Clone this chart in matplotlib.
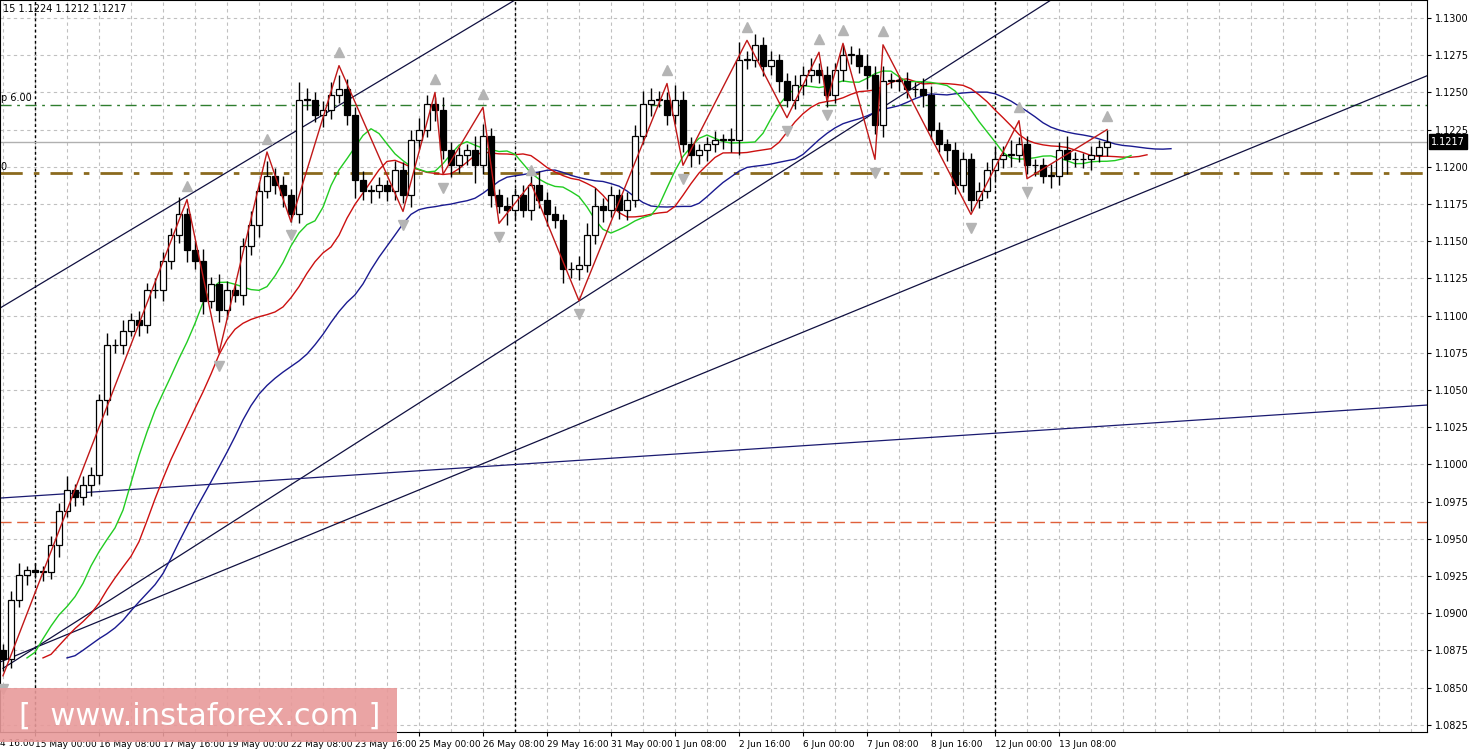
import numpy as np
import pandas as pd
import matplotlib.pyplot as plt

# H4 closes (15 May .. 13 Jun)
closes = [1.0869, 1.0909, 1.0926, 1.0929, 1.0928, 1.0928, 1.0946, 1.0969, 1.0983, 1.0978,
          1.0986, 1.0993, 1.1043, 1.1080, 1.1080, 1.1090, 1.1097, 1.1094, 1.1117, 1.1117,
          1.1137, 1.1154, 1.1168, 1.1144, 1.1137, 1.1110, 1.1121, 1.1104, 1.1117, 1.1114,
          1.1147, 1.1161, 1.1184, 1.1194, 1.1188, 1.1181, 1.1168, 1.1245, 1.1245, 1.1235,
          1.1238, 1.1248, 1.1252, 1.1235, 1.1191, 1.1184, 1.1184, 1.1188, 1.1184, 1.1198,
          1.1181, 1.1218, 1.1225, 1.1242, 1.1238, 1.1211, 1.1201, 1.1208, 1.1211, 1.1201,
          1.1221, 1.1181, 1.1174, 1.1171, 1.1181, 1.1171, 1.1188, 1.1178, 1.1168, 1.1164,
          1.1131, 1.1131, 1.1134, 1.1154, 1.1174, 1.1171, 1.1181, 1.1171, 1.1178, 1.1221,
          1.1242, 1.1245, 1.1245, 1.1235, 1.1245, 1.1215, 1.1208, 1.1211, 1.1215, 1.1218,
          1.1218, 1.1218, 1.1272, 1.1272, 1.1282, 1.1268, 1.1272, 1.1258, 1.1245, 1.1255,
          1.1262, 1.1265, 1.1262, 1.1248, 1.1265, 1.1275, 1.1275, 1.1268, 1.1262, 1.1228,
          1.1258, 1.1258, 1.1258, 1.1252, 1.1252, 1.1248, 1.1225, 1.1215, 1.1211, 1.1188,
          1.1205, 1.1178, 1.1184, 1.1198, 1.1205, 1.1208, 1.1208, 1.1215, 1.1201, 1.1201,
          1.1194, 1.1194, 1.1211, 1.1205, 1.1205, 1.1205, 1.1208, 1.1213, 1.1217]
first_open = 1.0875
# wick lengths in pips above / below the body
wick_up = [4, 6, 8, 3, 5, 4, 6, 5, 9, 4, 6, 5, 4, 8, 4, 7, 5, 6, 5, 8,
           6, 5, 12, 4, 6, 8, 5, 7, 6, 4, 5, 9, 6, 10, 5, 6, 4, 12, 8, 5,
           6, 9, 10, 7, 5, 6, 4, 5, 3, 6, 5, 7, 8, 6, 5, 9, 6, 5, 4, 10,
           8, 5, 4, 6, 5, 7, 6, 9, 5, 6, 4, 5, 6, 8, 12, 5, 6, 4, 5, 7,
           9, 8, 6, 5, 10, 6, 5, 4, 5, 6, 4, 8, 12, 6, 7, 5, 6, 4, 5, 7,
           6, 8, 5, 6, 5, 7, 6, 5, 8, 6, 10, 5, 4, 6, 5, 8, 6, 5, 4, 6,
           5, 4, 6, 5, 8, 6, 10, 5, 6, 4, 5, 8, 6, 10, 5, 4, 6, 5, 8]
wick_dn = [8, 6, 5, 7, 4, 6, 5, 8, 4, 6, 5, 7, 6, 10, 5, 6, 4, 8, 6, 5,
           7, 6, 5, 8, 6, 9, 5, 8, 6, 5, 7, 6, 8, 5, 6, 8, 5, 6, 7, 5,
           8, 6, 5, 7, 12, 6, 8, 5, 7, 6, 5, 8, 6, 5, 7, 6, 8, 5, 7, 12,
           6, 8, 5, 10, 6, 5, 7, 6, 8, 5, 9, 6, 7, 5, 6, 8, 5, 6, 7, 5,
           6, 8, 5, 7, 6, 5, 8, 6, 7, 5, 6, 8, 10, 6, 5, 7, 6, 8, 5, 6,
           7, 5, 6, 8, 5, 7, 6, 5, 10, 6, 8, 5, 7, 6, 5, 8, 6, 5, 7, 6,
           5, 8, 6, 5, 7, 6, 8, 5, 6, 7, 5, 8, 6, 10, 5, 6, 7, 5, 6]

# zigzag pivots (candle index, price)
zz_idx = [0, 23, 27, 33, 36, 42, 50, 54, 55, 60, 62, 66, 72, 83, 85, 93, 98, 102, 103, 105, 109, 110, 121, 127, 128, 138]
zz_px = [1.0858, 1.1178, 1.1075, 1.1210, 1.1163, 1.1268, 1.1170, 1.1250, 1.1195, 1.1240,
         1.1162, 1.1189, 1.1110, 1.1256, 1.1201, 1.1285, 1.1233, 1.1277, 1.1244, 1.1283,
         1.1205, 1.1282, 1.1168, 1.1231, 1.1192, 1.1225]

date_labels = ["15 May 00:00", "16 May 08:00", "17 May 16:00", "19 May 00:00", "22 May 08:00",
               "23 May 16:00", "25 May 00:00", "26 May 08:00", "29 May 16:00", "31 May 00:00",
               "1 Jun 08:00", "2 Jun 16:00", "6 Jun 00:00", "7 Jun 08:00", "8 Jun 16:00",
               "12 Jun 00:00", "13 Jun 08:00"]
price_ticks = [1.0825, 1.0850, 1.0875, 1.0900, 1.0925, 1.0950, 1.0975, 1.1000, 1.1025, 1.1050,
               1.1075, 1.1100, 1.1125, 1.1150, 1.1175, 1.1200, 1.1225, 1.1250, 1.1275, 1.1300]

closes = np.array(closes)
opens = np.concatenate([[first_open], closes[:-1]])
highs = np.maximum(opens, closes) + np.array(wick_up) * 0.0001
lows = np.minimum(opens, closes) - np.array(wick_dn) * 0.0001
n = len(closes)
idx = np.arange(n)

fig = plt.figure(figsize=(14.7, 7.56), dpi=100)
ax = fig.add_axes([0, 1 - 732 / 756, 1427 / 1470, 732 / 756])

# grid
for x in range(0, 180, 4):
    ax.axvline(x, color="#c0c0c0", lw=0.8, ls=(0, (3, 3)), zorder=0)
for p in price_ticks:
    ax.axhline(p, color="#c0c0c0", lw=0.8, ls=(0, (3, 3)), zorder=0)
for x in [4, 64, 124]:
    ax.axvline(x, color="black", lw=1, ls=(0, (2, 2)), zorder=1)

# levels
ax.axhline(1.12415, color="#2e7d2e", lw=1, ls=(0, (8, 4, 2, 4)), zorder=1)
ax.axhline(1.1217, color="#b0b0b0", lw=1, zorder=1)
ax.axhline(1.11958, color="#8b6a1e", lw=2, ls=(0, (8, 4, 2, 4)), zorder=1)
ax.axhline(1.09613, color="#e0603a", lw=1, ls=(0, (8, 4)), zorder=1)

# trend lines
ax.plot([-0.4, 64], [1.1105, 1.13121], color="#101040", lw=0.9)
ax.plot([0, 131], [1.0863, 1.13121], color="#101040", lw=0.9)
ax.plot([-0.375, 183.4], [1.08672, 1.12731], color="#101040", lw=0.9)
ax.plot([-0.375, 178], [1.09774, 1.10399], color="#1a1a70", lw=0.9)

# alligator
med = pd.Series((highs + lows) / 2)
for period, shift, col in [(13, 8, "#1a1a90"), (8, 5, "#cc1010"), (5, 3, "#22cc22")]:
    smma = med.ewm(alpha=1 / period, adjust=False).mean().values
    ax.plot(idx + shift, smma, color=col, lw=1, zorder=2)

# candles
for i in range(n):
    o, c = opens[i], closes[i]
    ax.vlines(i, lows[i], highs[i], color="black", lw=1, zorder=3)
    fc = "white" if c >= o else "black"
    h = max(abs(c - o), 0.00005)
    ax.add_patch(plt.Rectangle((i - 0.35, min(o, c)), 0.7, h, facecolor=fc,
                               edgecolor="black", lw=0.9, zorder=4))

# zigzag and fractal arrows
ax.plot(zz_idx, zz_px, color="#c01818", lw=1, zorder=5)
for k, (i, p) in enumerate(zip(zz_idx, zz_px)):
    if k % 2 == 1:
        ax.plot(i, p + 0.0009, marker="^", color="#b4b4b4", ms=7, zorder=5)
    else:
        ax.plot(i, p - 0.0009, marker="v", color="#b4b4b4", ms=7, zorder=5)

# axes styling
ax.yaxis.tick_right()
ax.set_yticks(price_ticks)
ax.set_yticklabels([f"{p:.4f}" for p in price_ticks], fontsize=7)
ax.set_xticks([4 + 8 * k for k in range(len(date_labels))])
ax.set_xticklabels(date_labels, fontsize=6.5, ha="left")
ax.tick_params(length=3, width=0.8, pad=3)
ax.set_xlim(-0.375, 178)
ax.set_ylim(1.08202, 1.13121)
for s in ax.spines.values():
    s.set_linewidth(0.8)
fig.text(0, 1 - 744 / 756, "4 16:00", fontsize=6.5, va="center", ha="left")

# current price box
ax.text(1.003, (1.1217 - 1.08202) / (1.13121 - 1.08202), "1.1217", transform=ax.transAxes,
        fontsize=7, color="white", va="center", ha="left",
        bbox=dict(facecolor="black", edgecolor="black", pad=1.5), clip_on=False)

# top-left info
ax.text(0.002, 0.995, "15 1.1224 1.1212 1.1217", transform=ax.transAxes, fontsize=7, va="top")
ax.text(-0.3, 1.1246, "p 6.00", fontsize=7, va="center")
ax.text(-0.3, 1.1200, "0", fontsize=7, va="center")

# watermark
fig.patches.append(plt.Rectangle((0, 1 - 742 / 756), 397 / 1470, 54 / 756,
                                 transform=fig.transFigure, facecolor="#e89a9a", alpha=0.9,
                                 edgecolor="none", zorder=10))
fig.text(200 / 1470, 1 - 716 / 756, "[  www.instaforex.com ]", fontsize=22, color="white",
         ha="center", va="center", zorder=11)

fig.savefig("out.png", dpi=100)
